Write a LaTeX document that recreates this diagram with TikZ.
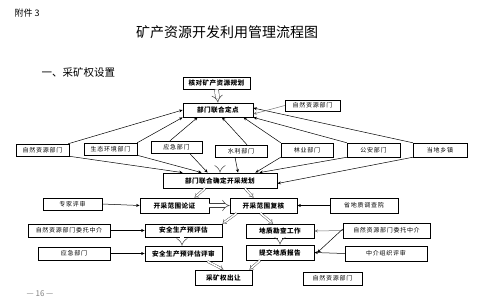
\documentclass[tikz,border=0pt]{standalone}
\usepackage{fontspec}
\setmainfont{Noto Sans CJK SC}
\newfontfamily\cjkls[LetterSpace=12]{Noto Sans CJK SC}
\newfontfamily\cjkmain[LetterSpace=6]{Noto Sans CJK SC}
\usetikzlibrary{arrows.meta}
\begin{document}
\begin{tikzpicture}[x=1pt,y=-1pt,
  mainbox/.style={draw, line width=0.8pt, fill=white, inner sep=0pt,
    font=\cjkmain\fontsize{6.6}{7}\selectfont\bfseries},
  sidebox/.style={draw, line width=0.5pt, fill=white, inner sep=0pt,
    font=\cjkls\fontsize{6}{7}\selectfont},
  arr/.style={-{Stealth[length=3.5pt,width=3pt]}, line width=0.5pt},
  garr/.style={arr, draw=black!55},
  hol/.style={draw=black!75, double, double distance=1.6pt, line width=0.4pt, -{Implies}},
  fat/.style={draw=black!75, double, double distance=3.5pt, line width=0.5pt, -{Implies}}
]
\useasboundingbox (0,0) rectangle (500,298);

% texts
\node[anchor=west, font=\fontsize{9}{10}\selectfont] (fj) at (11,13) {附件 3};
\node[font=\fontsize{14}{15}\selectfont] (title) at (227,32) {矿产资源开发利用管理流程图};
\node[anchor=west, font=\fontsize{10.5}{11}\selectfont] (sec) at (38,73) {一、采矿权设置};
\node[font=\fontsize{8}{9}\selectfont, text=black!50] (pg) at (40,294) {— 16 —};

% hollow arrow partly hidden (drawn first)
\coordinate (hidtop) at (220,158);

% boxes
\node[mainbox, minimum width=67pt, minimum height=12pt] (hedui) at (216.5,83) {核对矿产资源规划};
\node[mainbox, minimum width=70pt, minimum height=14pt] (lianhe) at (218,110) {部门联合定点};
\node[sidebox, minimum width=55pt, minimum height=11pt] (zr1) at (312.5,105.5) {自然资源部门};

\node[mainbox, minimum width=114pt, minimum height=15pt] (guihua) at (220,180.5) {部门联合确定开采规划};

\node[sidebox, minimum width=53pt, minimum height=12pt] (zr2) at (42.5,150) {自然资源部门};
\node[sidebox, minimum width=53pt, minimum height=12pt] (st) at (110.5,149) {生态环境部门};
\node[sidebox, minimum width=51pt, minimum height=12pt] (yj) at (176.5,147) {应急部门};
\node[sidebox, minimum width=52pt, minimum height=12pt] (sl) at (241,151) {水利部门};
\node[sidebox, minimum width=52pt, minimum height=14pt] (ly) at (307,150) {林业部门};
\node[sidebox, minimum width=53pt, minimum height=14pt] (ga) at (373.5,150) {公安部门};
\node[sidebox, minimum width=54pt, minimum height=14pt] (xz) at (440,150) {当地乡镇};

\node[sidebox, minimum width=59pt, minimum height=12pt] (zj) at (72.5,204) {专家评审};
\node[mainbox, minimum width=69pt, minimum height=15pt] (lz) at (174.5,205.5) {开采范围论证};
\node[mainbox, minimum width=67pt, minimum height=15pt] (fh) at (263.5,205.5) {开采范围复核};
\node[sidebox, minimum width=68pt, minimum height=15pt] (dzy) at (364,205.5) {省地质调查院};

\node[sidebox, minimum width=82pt, minimum height=13pt] (wt1) at (69,230.5) {自然资源部门委托中介};
\node[mainbox, minimum width=77pt, minimum height=13pt] (ypg) at (183.5,230.5) {安全生产预评估};
\node[mainbox, minimum width=68pt, minimum height=14pt] (kc) at (280,231) {地质勘查工作};
\node[sidebox, minimum width=87pt, minimum height=15pt] (wt2) at (386.5,230.5) {自然资源部门委托中介};

\node[sidebox, minimum width=72pt, minimum height=13pt] (yj2) at (74,253.5) {应急部门};
\node[mainbox, minimum width=77pt, minimum height=15pt] (pgps) at (183.5,253.5) {安全生产预评估评审};
\node[mainbox, minimum width=68pt, minimum height=15pt] (bg) at (280,252.5) {提交地质报告};
\node[sidebox, minimum width=82pt, minimum height=15pt] (zjps) at (386,253.5) {中介组织评审};

\node[mainbox, minimum width=57pt, minimum height=15pt] (cr) at (223.5,277.5) {采矿权出让};
\node[sidebox, minimum width=59pt, minimum height=13pt] (zr3) at (332.5,278.5) {自然资源部门};

% hollow / block arrows
\draw[fat] (hedui.south) -- (lianhe.north);
\draw[fat] (hidtop) -- (hidtop |- guihua.north);
\draw[hol] ([xshift=-15pt]guihua.south) -- ([xshift=20pt]lz.north);
\draw[hol] ([xshift=25pt]guihua.south) -- ([xshift=-10pt]fh.north);
\draw[fat] (lz.east) -- (fh.west);
\draw[hol] ([xshift=7pt]fh.south west) -- (ypg.north east);
\draw[hol] ([xshift=-3pt]fh.south) -- ([xshift=-7pt]kc.north);
\draw[fat] ([xshift=-1.5pt]ypg.south) -- ([xshift=-1.5pt]pgps.north);
\draw[fat] (kc.south) -- (bg.north);
\draw[hol] ([xshift=24pt]pgps.south) -- (cr.north);
\draw[hol] ([xshift=-20pt]bg.south) -- ([xshift=-3pt]cr.north east);

% upward lines to lianhe
\draw[arr] ([xshift=-1pt]zr2.north east) -- (lianhe.west);
\draw[arr] (st.north east) -- (lianhe.south west);
\draw[arr] ([xshift=-6.5pt]yj.north) -- ([xshift=15pt]lianhe.south west);
\draw[arr] ([xshift=6pt]sl.north) -- ([xshift=4pt]lianhe.south);
\draw[arr] (ly.north west) -- ([xshift=-10pt]lianhe.south east);
\draw[arr] (ga.north west) -- (lianhe.south east);
\draw[arr] (xz.north west) -- ([yshift=2pt]lianhe.east);
\draw[garr] (zr1.west) -- ([yshift=-4pt]lianhe.east);

% downward lines to guihua
\draw[arr] (zr2.south east) -- ([xshift=20pt]guihua.north west);
\draw[arr] (st.south east) -- ([xshift=39pt]guihua.north west);
\draw[arr] ([xshift=13pt]yj.south) -- ([xshift=45pt]guihua.north west);
\draw[arr] ([xshift=-6pt]sl.south) -- ([xshift=18pt]guihua.north);
\draw[arr] (ly.south west) -- ([xshift=-22pt]guihua.north east);
\draw[arr] (ga.south west) -- ([xshift=-18pt]guihua.north east);
\draw[arr] (xz.south west) -- ([yshift=-3pt]guihua.east);

% side arrows
\draw[arr] (zj.east) -- (lz.west);
\draw[arr] (dzy.west) -- (fh.east);
\draw[arr] (wt1.east) -- (ypg.west);
\draw[arr] (yj2.east) -- (pgps.west);
\draw[garr] (wt2.west) -- (kc.east);
\draw[arr] ([yshift=1.5pt]wt2.west) -- ([xshift=3pt]bg.east);
\draw[arr] (zjps.west) -- (bg.east);
\end{tikzpicture}
\end{document}
